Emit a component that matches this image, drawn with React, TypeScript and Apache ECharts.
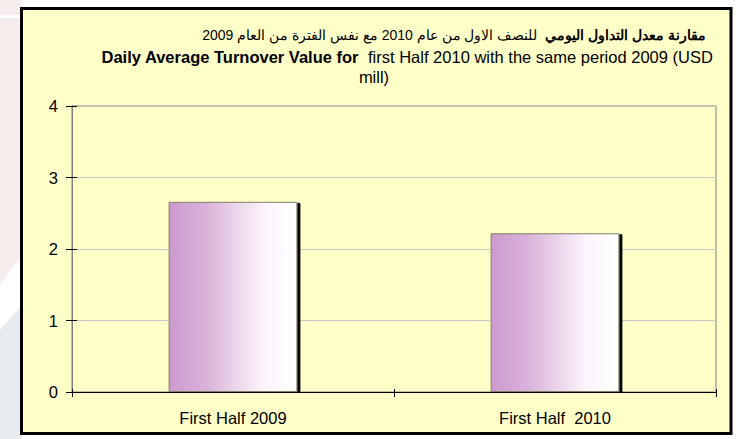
import React, { useEffect, useRef } from "react";
import * as echarts from "echarts";

const categories = ["First Half 2009", "First Half  2010"];
const values = [2.66, 2.22];
const yTicks = [0, 1, 2, 3, 4];
const titleArabicBold = "مقارنة معدل التداول اليومي";
const titleArabicNormal = "للنصف الاول من عام 2010 مع نفس الفترة من العام 2009";
const titleEnBold = "Daily Average Turnover Value for";
const titleEnNormal = "  first Half 2010 with the same period 2009 (USD";
const titleEnLine2 = "mill)";

const FONT = "Liberation Sans, Arial, sans-serif";
const FS = 16.5;

export default function App() {
  const ref = useRef<HTMLDivElement>(null);
  useEffect(() => {
    document.body.style.margin = "0";
    if (!ref.current) return;
    const chart = echarts.init(ref.current, undefined, { renderer: "svg" });
    const yMin = yTicks[0];
    const yMax = yTicks[yTicks.length - 1];
    chart.setOption({
      animation: false,
      backgroundColor: "#ffffff",
      textStyle: { fontFamily: FONT },
      graphic: {
        elements: [
          {
            type: "polygon",
            z: -20,
            silent: true,
            shape: { points: [[0, 0], [22, 0], [22, 255], [0, 285]] },
            style: { fill: "#f8eded" },
          },
          {
            type: "rect",
            z: -19,
            silent: true,
            shape: { x: 0, y: 15, width: 22, height: 3 },
            style: { fill: "#ffffff" },
          },
          {
            type: "polygon",
            z: -20,
            silent: true,
            shape: { points: [[0, 330], [22, 305], [22, 439], [0, 439]] },
            style: { fill: "#e6ebef" },
          },
          {
            type: "rect",
            z: -10,
            silent: true,
            shape: { x: 21.5, y: 8.5, width: 709.5, height: 425 },
            style: { fill: "#ffffc8", stroke: "#000000", lineWidth: 3 },
          },
          {
            type: "text",
            z: 10,
            x: 454,
            y: 35,
            style: {
              text: "{n|" + titleArabicNormal + "}{n|  }{b|" + titleArabicBold + "}",
              align: "center",
              verticalAlign: "middle",
              rich: {
                n: { fontSize: 14, fontFamily: FONT, fill: "#000" },
                b: { fontSize: 14, fontWeight: "bold", fontFamily: FONT, fill: "#000" },
              },
            },
          },
          {
            type: "text",
            z: 10,
            x: 407,
            y: 57,
            style: {
              text: "{b|" + titleEnBold + "}{n|" + titleEnNormal + "}",
              align: "center",
              verticalAlign: "middle",
              rich: {
                n: { fontSize: FS, fontFamily: FONT, fill: "#000" },
                b: { fontSize: FS, fontWeight: "bold", fontFamily: FONT, fill: "#000" },
              },
            },
          },
          {
            type: "text",
            z: 10,
            x: 374,
            y: 77,
            style: {
              text: titleEnLine2,
              align: "center",
              verticalAlign: "middle",
              fontSize: FS,
              fontFamily: FONT,
              fill: "#000",
            },
          },
        ],
      },
      grid: {
        left: 72,
        right: 21,
        top: 106,
        bottom: 47,
        show: true,
        borderColor: "#808080",
        borderWidth: 1,
        backgroundColor: "transparent",
      },
      xAxis: [
        {
          type: "category",
          data: categories,
          axisLine: { show: true, lineStyle: { color: "#000000", width: 1 } },
          axisTick: { show: true, alignWithLabel: false, length: 5, lineStyle: { color: "#000" } },
          axisLabel: { fontSize: FS, color: "#000", margin: 17, fontFamily: FONT },
          splitLine: { show: false },
        },
        {
          type: "category",
          data: categories,
          position: "bottom",
          axisLine: { show: false },
          axisTick: { show: true, inside: true, alignWithLabel: false, length: 3, lineStyle: { color: "#000" } },
          axisLabel: { show: false },
          splitLine: { show: false },
        },
      ],
      yAxis: [
        {
          type: "value",
          min: yMin,
          max: yMax,
          interval: 1,
          axisLine: { show: true, lineStyle: { color: "#808080", width: 1 } },
          axisTick: { show: true, length: 6, lineStyle: { color: "#000" } },
          axisLabel: { fontSize: FS, color: "#000", margin: 14, fontFamily: FONT },
          splitLine: { show: true, lineStyle: { color: "#c8c8c8", width: 1 } },
        },
        {
          type: "value",
          position: "left",
          min: yMin,
          max: yMax,
          interval: 1,
          axisLine: { show: false },
          axisTick: { show: true, inside: true, length: 5, lineStyle: { color: "#000" } },
          axisLabel: { show: false },
          splitLine: { show: false },
        },
      ],
      series: [
        {
          type: "bar",
          data: values,
          barWidth: "40%",
          itemStyle: {
            color: new echarts.graphic.LinearGradient(0, 0, 1, 0, [
              { offset: 0, color: "#cc99cc" },
              { offset: 0.3, color: "#dab3da" },
              { offset: 0.55, color: "#ecd9ec" },
              { offset: 0.75, color: "#fdf4fd" },
              { offset: 1, color: "#ffffff" },
            ]),
            borderColor: "#80806a",
            borderWidth: 1,
            shadowColor: "rgba(0,0,0,1)",
            shadowOffsetX: 3,
            shadowOffsetY: 1,
            shadowBlur: 0,
          },
        },
      ],
    });
    return () => chart.dispose();
  }, []);
  return <div ref={ref} style={{ width: 737, height: 439 }} />;
}
